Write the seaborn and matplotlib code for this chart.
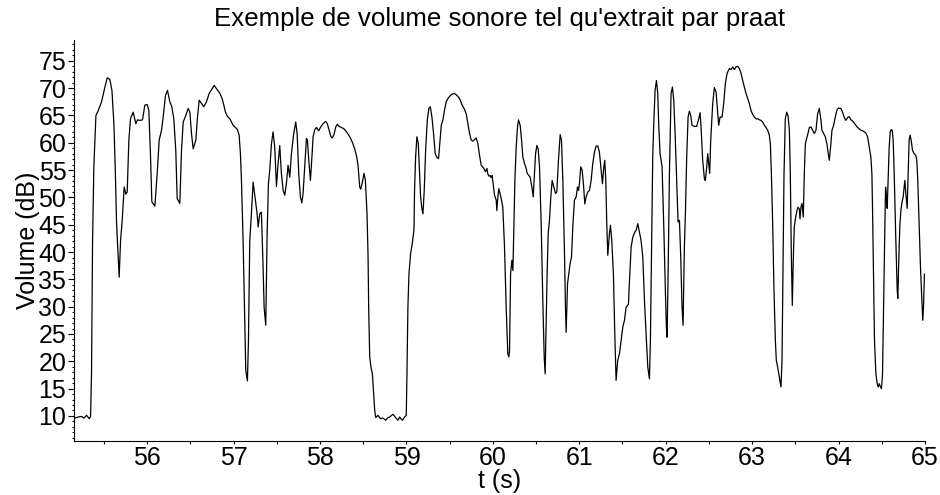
import numpy as np
import pandas as pd
import seaborn as sns
import matplotlib
matplotlib.use("Agg")
import matplotlib.pyplot as plt
from matplotlib.ticker import MultipleLocator

# --- data (time in s, volume in dB) ---
t_seg1 = [55.164, 55.202, 55.241, 55.268, 55.299, 55.329, 55.345, 55.356, 55.368, 55.383,
          55.407, 55.434, 55.472, 55.511, 55.538, 55.568, 55.592, 55.615, 55.630, 55.646,
          55.657, 55.676, 55.692, 55.711, 55.734, 55.753, 55.769, 55.788, 55.807, 55.838,
          55.869, 55.888, 55.915, 55.946, 55.973, 56.000, 56.019, 56.039, 56.054, 56.089,
          56.116, 56.139, 56.166, 56.185, 56.212, 56.235, 56.262, 56.285, 56.308, 56.331,
          56.347]
db_seg1 = [9.6, 9.8, 9.9, 9.6, 10.1, 9.5, 9.9, 17.7, 42.1, 55.6,
           65.0, 65.9, 67.5, 70.2, 71.9, 71.6, 69.6, 63.5, 55.6, 45.2,
           41.5, 35.4, 42.1, 45.8, 51.9, 50.6, 51.0, 60.5, 64.4, 65.6,
           63.5, 64.2, 64.1, 64.2, 66.9, 67.0, 66.0, 57.4, 49.2, 48.4,
           54.4, 60.5, 62.3, 64.7, 68.7, 69.6, 67.5, 66.6, 64.4, 58.6,
           49.8]

t_seg2 = [56.378, 56.397, 56.417, 56.447, 56.474, 56.494, 56.513, 56.532, 56.563, 56.582,
          56.602, 56.628, 56.655, 56.686, 56.717, 56.744, 56.775, 56.802, 56.840, 56.867,
          56.887, 56.906, 56.929, 56.956, 56.975, 56.995, 57.022, 57.045, 57.064, 57.079,
          57.091, 57.110, 57.129, 57.141, 57.160, 57.172, 57.187, 57.206, 57.226, 57.245,
          57.272, 57.284, 57.303, 57.322, 57.341, 57.353, 57.372, 57.388, 57.403, 57.418,
          57.438, 57.457, 57.476, 57.496, 57.515, 57.534, 57.553, 57.573, 57.592, 57.611,
          57.630]
db_seg2 = [48.9, 58.6, 63.8, 65.0, 66.3, 65.6, 61.7, 58.9, 60.5, 64.7,
           67.8, 67.2, 66.6, 67.5, 69.0, 69.7, 70.5, 69.9, 69.1, 68.1,
           66.9, 65.6, 64.8, 64.4, 63.8, 63.2, 62.8, 62.4, 61.4, 58.0,
           53.1, 42.1, 26.9, 18.3, 16.4, 23.8, 42.1, 47.0, 52.8, 50.4,
           47.0, 44.6, 47.0, 47.3, 37.3, 29.9, 26.6, 43.4, 52.5, 55.0,
           59.8, 62.0, 59.2, 52.0, 56.2, 59.5, 54.4, 51.3, 50.4, 52.5,
           55.9]

t_seg3 = [57.650, 57.669, 57.696, 57.719, 57.735, 57.754, 57.773, 57.789, 57.804, 57.823,
          57.843, 57.854, 57.870, 57.889, 57.904, 57.920, 57.939, 57.958, 57.985, 58.008,
          58.035, 58.066, 58.085, 58.105, 58.124, 58.143, 58.163, 58.182, 58.201, 58.220,
          58.247, 58.274, 58.297, 58.324, 58.351, 58.374, 58.401, 58.421, 58.440, 58.459,
          58.471, 58.490, 58.509, 58.525, 58.544, 58.556, 58.563, 58.575, 58.590, 58.606,
          58.621, 58.633, 58.644, 58.671, 58.698, 58.729, 58.760, 58.787, 58.806, 58.845,
          58.875, 58.902]
db_seg3 = [53.7, 58.0, 61.7, 63.8, 61.7, 54.3, 50.1, 49.0, 50.7, 55.6,
           60.8, 60.5, 56.8, 53.1, 56.8, 61.1, 62.4, 62.8, 62.2, 62.9,
           63.5, 63.9, 63.5, 62.3, 61.2, 60.9, 61.6, 62.9, 63.4, 63.0,
           62.8, 62.6, 62.2, 61.6, 60.9, 60.1, 58.9, 57.7, 55.9, 51.9,
           51.5, 52.8, 54.4, 53.1, 47.0, 39.1, 29.9, 20.8, 18.9, 17.7,
           14.1, 11.0, 9.7, 10.1, 9.5, 9.6, 9.2, 9.7, 9.8, 10.3,
           9.7, 9.2]

t_seg4 = [58.921, 58.952, 58.979, 58.998, 59.006, 59.017, 59.029, 59.048, 59.067, 59.087,
          59.094, 59.106, 59.121, 59.137, 59.152, 59.164, 59.179, 59.191, 59.206, 59.222,
          59.241, 59.260, 59.276, 59.295, 59.314, 59.333, 59.353, 59.372, 59.383, 59.403,
          59.422, 59.441, 59.460, 59.480, 59.499, 59.526, 59.557, 59.584, 59.615, 59.645,
          59.672, 59.692, 59.711, 59.730, 59.750, 59.769, 59.788, 59.807, 59.827, 59.846,
          59.865, 59.892, 59.915, 59.931, 59.942, 59.954, 59.969, 59.981, 59.992, 60.008,
          60.019, 60.039, 60.046, 60.058, 60.069, 60.085, 60.100, 60.115, 60.135, 60.154,
          60.173, 60.185]
db_seg4 = [9.8, 9.2, 9.8, 10.1, 17.7, 29.9, 36.0, 39.7, 41.5, 44.0,
           51.3, 57.4, 61.1, 59.9, 54.4, 50.1, 47.9, 47.0, 51.3, 58.6,
           64.1, 66.3, 66.6, 64.7, 61.7, 58.0, 57.3, 57.1, 59.2, 63.2,
           64.2, 66.0, 67.5, 68.1, 68.5, 68.9, 69.0, 68.7, 68.1, 66.9,
           66.1, 65.3, 63.5, 61.7, 60.5, 60.3, 60.6, 60.9, 59.8, 57.7,
           55.9, 55.4, 54.7, 55.3, 54.3, 53.9, 54.0, 53.6, 54.0, 51.9,
           50.4, 49.5, 47.6, 50.1, 51.6, 50.6, 49.5, 48.2, 40.9, 29.9,
           21.4, 20.8]

t_seg5 = [60.193, 60.205, 60.220, 60.232, 60.243, 60.255, 60.270, 60.285, 60.297, 60.316,
          60.332, 60.347, 60.366, 60.386, 60.397, 60.417, 60.432, 60.451, 60.467, 60.482,
          60.494, 60.509, 60.524, 60.540, 60.559, 60.578, 60.594, 60.605, 60.617, 60.628,
          60.640, 60.655, 60.671, 60.686, 60.706, 60.725, 60.740, 60.759, 60.779, 60.794,
          60.810, 60.829, 60.840, 60.848, 60.864, 60.879, 60.894, 60.910, 60.925, 60.944,
          60.964, 60.979, 60.991, 61.002, 61.017, 61.033, 61.048, 61.064, 61.079, 61.099,
          61.118, 61.137, 61.156, 61.176, 61.195, 61.214, 61.233, 61.253, 61.268, 61.284,
          61.295, 61.307, 61.318, 61.330, 61.349, 61.361, 61.376, 61.395, 61.411, 61.426,
          61.445]
db_seg5 = [22.0, 36.0, 38.5, 36.6, 44.6, 53.1, 59.2, 62.9, 64.2, 63.2,
           60.5, 57.4, 56.2, 55.3, 54.4, 54.0, 53.7, 51.9, 50.1, 54.4,
           58.0, 59.5, 58.9, 55.6, 45.2, 31.2, 20.8, 17.7, 26.9, 36.0,
           43.4, 45.8, 50.1, 53.1, 51.9, 50.7, 51.0, 56.8, 61.5, 60.5,
           53.1, 39.7, 29.9, 25.3, 34.2, 36.0, 37.9, 39.1, 44.6, 49.5,
           50.1, 51.9, 51.3, 52.5, 55.6, 55.0, 52.5, 48.8, 50.1, 51.0,
           51.3, 53.1, 56.2, 58.3, 59.4, 59.4, 58.3, 55.0, 52.5, 55.6,
           56.8, 53.1, 45.2, 39.4, 43.4, 44.9, 42.1, 36.0, 25.0, 16.5,
           20.2]

t_seg6 = [61.465, 61.484, 61.504, 61.523, 61.542, 61.557, 61.569, 61.581, 61.600, 61.619,
          61.638, 61.658, 61.677, 61.696, 61.715, 61.735, 61.754, 61.773, 61.793, 61.812,
          61.823, 61.835, 61.850, 61.862, 61.877, 61.893, 61.908, 61.920, 61.935, 61.958,
          61.978, 61.997, 62.008, 62.016, 62.028, 62.043, 62.062, 62.078, 62.093, 62.109,
          62.128, 62.143, 62.159, 62.174, 62.189, 62.201, 62.216, 62.228, 62.243, 62.259,
          62.274, 62.290, 62.305, 62.332, 62.359, 62.382, 62.398, 62.409, 62.428, 62.448,
          62.459, 62.475, 62.486, 62.498, 62.509, 62.521, 62.544, 62.563, 62.583, 62.602,
          62.613, 62.629, 62.652, 62.671, 62.690, 62.710]
db_seg6 = [21.4, 23.8, 26.3, 27.5, 29.9, 30.2, 30.5, 34.8, 40.9, 42.7,
           43.5, 44.0, 45.2, 43.7, 42.1, 39.1, 31.2, 25.0, 18.9, 16.8,
           23.8, 39.1, 57.4, 63.5, 69.6, 71.4, 69.0, 62.9, 58.0, 55.6,
           44.6, 32.4, 26.3, 24.4, 36.0, 54.3, 69.0, 70.2, 67.8, 61.7,
           52.5, 45.5, 45.8, 39.1, 29.9, 26.6, 40.9, 47.0, 57.4, 64.7,
           65.8, 65.0, 63.2, 63.0, 63.0, 64.4, 65.5, 62.9, 56.8, 53.4,
           53.1, 55.6, 58.0, 56.2, 54.4, 60.5, 67.2, 70.1, 69.3, 65.3,
           63.2, 64.7, 64.7, 67.2, 70.8, 72.7]

t_seg7 = [62.737, 62.756, 62.776, 62.795, 62.814, 62.833, 62.853, 62.872, 62.891, 62.910,
          62.930, 62.949, 62.968, 62.987, 63.007, 63.026, 63.045, 63.065, 63.084, 63.103,
          63.122, 63.142, 63.161, 63.180, 63.199, 63.211, 63.223, 63.238, 63.253, 63.269,
          63.280, 63.296, 63.315, 63.334, 63.346, 63.357, 63.369, 63.384, 63.400, 63.415,
          63.431, 63.442, 63.454, 63.465, 63.477, 63.488, 63.504, 63.519, 63.531, 63.546,
          63.554, 63.565, 63.577, 63.592, 63.604, 63.616, 63.631, 63.646, 63.662, 63.681,
          63.700, 63.720, 63.739, 63.758, 63.777, 63.797, 63.808, 63.828, 63.847, 63.866,
          63.881, 63.893, 63.908, 63.924, 63.943, 63.962, 63.982, 64.001]
db_seg7 = [73.6, 73.4, 73.9, 73.4, 73.9, 74.0, 73.6, 72.7, 71.4, 70.2,
           69.0, 68.1, 67.2, 65.9, 65.2, 64.7, 64.4, 64.4, 64.2, 64.1,
           63.8, 63.2, 62.8, 62.3, 61.4, 59.8, 54.3, 45.2, 33.0, 23.8,
           20.2, 18.9, 17.1, 15.3, 20.2, 36.0, 54.3, 64.4, 65.6, 65.0,
           62.3, 54.3, 39.1, 30.2, 39.1, 44.6, 46.4, 47.6, 48.2, 47.9,
           46.1, 48.2, 48.9, 46.4, 54.4, 59.8, 60.8, 61.7, 62.8, 62.9,
           62.3, 61.7, 62.3, 65.3, 66.3, 64.1, 62.3, 61.7, 61.1, 59.8,
           58.0, 56.8, 59.2, 62.3, 63.2, 64.7, 66.0, 66.4]

t_seg8 = [64.008, 64.027, 64.047, 64.066, 64.085, 64.104, 64.124, 64.143, 64.162, 64.181,
          64.201, 64.220, 64.239, 64.258, 64.278, 64.297, 64.316, 64.336, 64.355, 64.374,
          64.386, 64.393, 64.405, 64.416, 64.432, 64.447, 64.459, 64.470, 64.486, 64.497,
          64.509, 64.521, 64.536, 64.544, 64.555, 64.563, 64.574, 64.586, 64.598, 64.609,
          64.621, 64.632, 64.644, 64.663, 64.679, 64.686, 64.698, 64.709, 64.721, 64.732,
          64.748, 64.759, 64.767, 64.779, 64.794, 64.806, 64.817, 64.829, 64.840, 64.856,
          64.875, 64.894, 64.906, 64.917, 64.933, 64.948, 64.964, 64.975, 64.983, 64.994]
db_seg8 = [66.3, 66.3, 65.6, 64.6, 64.1, 64.6, 64.8, 64.2, 64.0, 63.6,
           63.2, 62.8, 62.6, 62.3, 62.2, 62.0, 61.8, 61.1, 59.2, 57.4,
           54.3, 48.3, 36.0, 23.8, 17.7, 15.9, 15.3, 15.9, 15.3, 15.0,
           17.7, 29.9, 44.6, 51.9, 50.1, 48.0, 53.1, 59.2, 62.0, 62.4,
           62.3, 60.5, 54.4, 42.1, 33.0, 31.5, 39.1, 44.6, 47.6, 48.9,
           50.1, 51.9, 53.1, 50.7, 48.0, 54.4, 60.5, 61.4, 60.5, 58.6,
           58.0, 57.7, 56.8, 53.1, 45.2, 37.3, 31.2, 27.5, 29.9, 36.0]

x_ticks = [56, 57, 58, 59, 60, 61, 62, 63, 64, 65]
y_ticks = [10, 15, 20, 25, 30, 35, 40, 45, 50, 55, 60, 65, 70, 75]

title = "Exemple de volume sonore tel qu'extrait par praat"
xlabel = "t (s)"
ylabel = "Volume (dB)"

t_all = (t_seg1 + t_seg2 + t_seg3 + t_seg4 + t_seg5 + t_seg6 + t_seg7 + t_seg8)
db_all = (db_seg1 + db_seg2 + db_seg3 + db_seg4 + db_seg5 + db_seg6 + db_seg7 + db_seg8)
df = pd.DataFrame({"t": t_all, "db": db_all})

sns.set_style("ticks")
plt.rcParams["font.family"] = ["Liberation Sans", "DejaVu Sans"]
plt.rcParams["text.color"] = "black"
plt.rcParams["axes.labelcolor"] = "black"
plt.rcParams["xtick.color"] = "black"
plt.rcParams["ytick.color"] = "black"

fig = plt.figure(figsize=(9.4, 4.95), dpi=100)
ax = fig.add_axes([0.0787, 0.109, 0.9053, 0.810])

sns.lineplot(data=df, x="t", y="db", color="black", linewidth=0.9,
             estimator=None, sort=False, ax=ax)

ax.set_xlim(55.153, 65.0)
ax.set_ylim(5.4, 78.8)
ax.set_xticks(x_ticks)
ax.set_yticks(y_ticks)
ax.xaxis.set_minor_locator(MultipleLocator(0.5))
ax.yaxis.set_minor_locator(MultipleLocator(1))
ax.tick_params(axis="both", which="both", labelsize=18, width=0.8,
               direction="out", color="black", labelcolor="black")
ax.tick_params(axis="x", which="major", length=2.5, pad=1)
ax.tick_params(axis="x", which="minor", length=2.2)
ax.tick_params(axis="y", which="major", length=4, pad=1.5)
ax.tick_params(axis="y", which="minor", length=1.8)
ax.set_xlabel(xlabel, fontsize=18, labelpad=-1, color="black")
ax.set_ylabel(ylabel, fontsize=18, labelpad=-1, color="black")
ax.set_title(title, fontsize=18.6, pad=10, color="black")
sns.despine(ax=ax)
for s in ("left", "bottom"):
    ax.spines[s].set_color("black")
    ax.spines[s].set_linewidth(0.8)

fig.savefig("out.png", dpi=100)
